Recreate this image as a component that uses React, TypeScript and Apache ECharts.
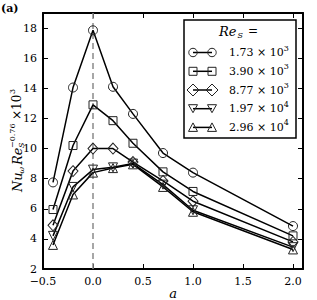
import React, { useEffect, useRef } from 'react';
import * as echarts from 'echarts';

const aValues = [-0.4, -0.2, 0, 0.2, 0.4, 0.7, 1.0, 2.0];
const re173 = [7.75, 14.05, 17.85, 14.1, 12.3, 9.7, 8.4, 4.85];
const re390 = [5.95, 10.2, 12.9, 11.85, 10.35, 8.45, 7.15, 4.2];
const re877 = [4.9, 8.5, 10.0, 10.0, 9.1, 7.85, 6.5, 3.8];
const re1970 = [4.2, 7.45, 8.6, 8.75, 9.0, 7.6, 5.9, 3.45];
const re2960 = [3.6, 6.95, 8.4, 8.7, 8.95, 7.45, 5.8, 3.3];
const seriesNames = ['1.73 × 10³', '3.90 × 10³', '8.77 × 10³', '1.97 × 10⁴', '2.96 × 10⁴'];
const legendMantissa = ['1.73', '3.90', '8.77', '1.97', '2.96'];
const legendExponent = ['3', '3', '3', '4', '4'];
const dashX = [0, 0];
const dashY = [2, 19];

const FONT = 'DejaVu Serif';

export default function App() {
  const ref = useRef<HTMLDivElement>(null);
  useEffect(() => {
    if (!ref.current) return;
    const chart = echarts.init(ref.current, undefined, { renderer: 'svg' });
    const allData = [re173, re390, re877, re1970, re2960];
    const symbols = ['circle', 'rect', 'diamond', 'triangle', 'triangle'];
    const sizes: any[] = [9, 8, [10, 11], 9, 9];
    const rotates = [0, 0, 0, 180, 0];

    const series: any[] = [
      {
        type: 'line',
        name: 'a=0',
        data: dashX.map((x, i) => [x, dashY[i]]),
        symbol: 'none',
        silent: true,
        lineStyle: { color: '#8a8a8a', type: [6, 4], width: 1.5 },
        z: 1,
      },
      ...allData.map((vals, i) => ({
        type: 'line',
        name: seriesNames[i],
        data: aValues.map((a, j) => [a, vals[j]]),
        symbol: symbols[i],
        symbolSize: sizes[i],
        symbolRotate: rotates[i],
        showAllSymbol: true,
        lineStyle: { color: '#000', width: 1.5 },
        itemStyle: { color: 'rgba(0,0,0,0)', borderColor: '#222', borderWidth: 1 },
        z: 3,
      })),
    ];

    const xFmt = (v: number) => {
      if (Math.abs(v * 2 - Math.round(v * 2)) > 1e-9 || v > 2.05) return '';
      return v.toFixed(1).replace('-', '−');
    };
    const yFmt = (v: number) => (v % 2 === 0 ? String(v) : '');

    const tick = { show: true, inside: true, length: 5, lineStyle: { color: '#000', width: 1 } };
    const line = { show: true, onZero: false, lineStyle: { color: '#000', width: 2 } };

    const lx1 = 193, lx2 = 212;
    const rowY = [52.5, 71.3, 90, 108.7, 127.4];
    const mk = (kind: number, cx: number, cy: number): any => {
      const style = { fill: 'none', stroke: '#222', lineWidth: 1 };
      if (kind === 0) return { type: 'circle', shape: { cx, cy, r: 4.2 }, style };
      if (kind === 1) return { type: 'rect', shape: { x: cx - 4, y: cy - 4, width: 8, height: 8 }, style };
      if (kind === 2) return { type: 'polygon', shape: { points: [[cx, cy - 6], [cx + 6, cy], [cx, cy + 6], [cx - 6, cy]] }, style };
      if (kind === 3) return { type: 'polygon', shape: { points: [[cx - 4.5, cy - 4], [cx + 4.5, cy - 4], [cx, cy + 4]] }, style };
      return { type: 'polygon', shape: { points: [[cx, cy - 4.5], [cx + 4.5, cy + 4], [cx - 4.5, cy + 4]] }, style };
    };
    const txt = (text: string, x: number, y: number, size: number, italic: boolean, align = 'left', bold = false): any => ({
      type: 'text', x, y,
      style: {
        text, fontFamily: FONT, fontSize: size, fontStyle: italic ? 'italic' : 'normal',
        fontWeight: bold ? 'bold' : 'normal', fill: '#000', verticalAlign: 'middle', align,
      },
    });
    const legendChildren: any[] = [
      { type: 'rect', shape: { x: 184, y: 20, width: 112, height: 118 }, style: { fill: '#fff', stroke: '#000', lineWidth: 1.5 } },
      txt('Re', 219, 31, 13, true),
      txt('S', 237.5, 35, 8, true),
      txt('=', 248, 31, 12, false),
    ];
    rowY.forEach((y, i) => {
      legendChildren.push({ type: 'line', shape: { x1: lx1, y1: y, x2: lx2, y2: y }, style: { stroke: '#000', lineWidth: 1.5 } });
      legendChildren.push(mk(i, lx1, y));
      legendChildren.push(mk(i, lx2, y));
      legendChildren.push({
        type: 'text', x: 229, y,
        style: {
          text: `{m|${legendMantissa[i]} × 10}{s|${legendExponent[i]}}`,
          verticalAlign: 'middle', align: 'left',
          rich: {
            m: { fontFamily: FONT, fontSize: 11, lineHeight: 17, fill: '#000' },
            s: { fontFamily: FONT, fontSize: 8, lineHeight: 9, verticalAlign: 'top', fill: '#000' },
          },
        },
      });
    });

    const yLabel = {
      type: 'group', x: 17, y: 140, rotation: Math.PI / 2,
      children: [
        txt('Nu', -52, 0, 13, true),
        txt('ω', -33.5, 4, 8, true),
        txt('Re', -25, 0, 13, true),
        txt('S', -8, 4, 8, true),
        txt('−0.76', -8, -5, 8, false),
        txt('×', 20, 0, 12, false),
        txt('10', 30, 0, 12, false),
        txt('3', 46, -5, 8, false),
      ],
    };

    chart.setOption({
      animation: false,
      textStyle: { fontFamily: FONT },
      grid: { left: 43, right: 14, top: 13, bottom: 31, containLabel: false },
      xAxis: [
        {
          type: 'value', min: -0.5, max: 2.1, interval: 0.5, position: 'bottom',
          axisLine: line, axisTick: tick, splitLine: { show: false },
          axisLabel: { formatter: xFmt, color: '#000', fontSize: 11, margin: 7, fontFamily: FONT },
        },
        {
          type: 'value', min: -0.5, max: 2.1, interval: 0.5, position: 'top',
          axisLine: line, axisTick: tick, splitLine: { show: false }, axisLabel: { show: false },
        },
      ],
      yAxis: [
        {
          type: 'value', min: 2, max: 19, interval: 2, position: 'left',
          axisLine: line, axisTick: tick, splitLine: { show: false },
          axisLabel: { formatter: yFmt, color: '#000', fontSize: 11, margin: 6, fontFamily: FONT },
        },
        {
          type: 'value', min: 2, max: 19, interval: 2, position: 'right',
          axisLine: line, axisTick: tick, splitLine: { show: false }, axisLabel: { show: false },
        },
      ],
      series,
      graphic: [
        txt('(a)', 1, 8, 11, false, 'left', true),
        txt('a', 173, 293, 13, true, 'center'),
        yLabel,
        { type: 'group', z: 100, children: legendChildren },
      ],
    });
    return () => chart.dispose();
  }, []);
  return <div ref={ref} style={{ position: 'fixed', left: 0, top: 0, width: 317, height: 300, background: '#fff' }} />;
}
